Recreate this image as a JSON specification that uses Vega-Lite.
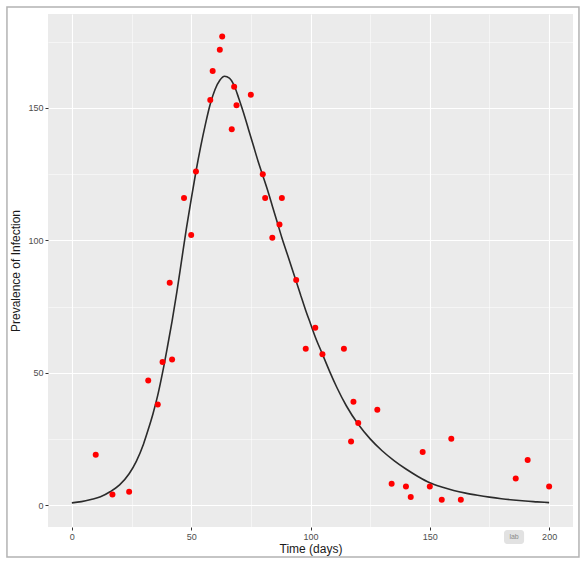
{
  "$schema": "https://vega.github.io/schema/vega-lite/v6.json",
  "width": 525,
  "height": 513,
  "autosize": {"type": "none"},
  "padding": {"left": 48, "top": 14, "right": 13, "bottom": 37},
  "background": "white",
  "datasets": {
    "observed": [
      {"day": 10, "prev": 19}, {"day": 17, "prev": 4}, {"day": 24, "prev": 5},
      {"day": 32, "prev": 47}, {"day": 36, "prev": 38}, {"day": 38, "prev": 54},
      {"day": 41, "prev": 84}, {"day": 42, "prev": 55}, {"day": 47, "prev": 116},
      {"day": 50, "prev": 102}, {"day": 52, "prev": 126}, {"day": 58, "prev": 153},
      {"day": 59, "prev": 164}, {"day": 62, "prev": 172}, {"day": 63, "prev": 177},
      {"day": 67, "prev": 142}, {"day": 68, "prev": 158}, {"day": 69, "prev": 151},
      {"day": 75, "prev": 155}, {"day": 80, "prev": 125}, {"day": 81, "prev": 116},
      {"day": 84, "prev": 101}, {"day": 87, "prev": 106}, {"day": 88, "prev": 116},
      {"day": 94, "prev": 85}, {"day": 98, "prev": 59}, {"day": 102, "prev": 67},
      {"day": 105, "prev": 57}, {"day": 114, "prev": 59}, {"day": 117, "prev": 24},
      {"day": 118, "prev": 39}, {"day": 120, "prev": 31}, {"day": 128, "prev": 36},
      {"day": 134, "prev": 8}, {"day": 140, "prev": 7}, {"day": 142, "prev": 3},
      {"day": 147, "prev": 20}, {"day": 150, "prev": 7}, {"day": 155, "prev": 2},
      {"day": 159, "prev": 25}, {"day": 163, "prev": 2}, {"day": 186, "prev": 10},
      {"day": 191, "prev": 17}, {"day": 200, "prev": 7}
    ],
    "model": [
      {"day": 0, "prev": 0.8}, {"day": 4, "prev": 1.3}, {"day": 8, "prev": 2.1},
      {"day": 12, "prev": 3.1}, {"day": 16, "prev": 5}, {"day": 20, "prev": 7.6},
      {"day": 24, "prev": 11.8}, {"day": 27, "prev": 16.5}, {"day": 30, "prev": 23},
      {"day": 32, "prev": 28.5}, {"day": 34, "prev": 34.5}, {"day": 36, "prev": 41.5},
      {"day": 38, "prev": 50}, {"day": 40, "prev": 59.5}, {"day": 42, "prev": 69.5},
      {"day": 44, "prev": 80.5}, {"day": 46, "prev": 92.5}, {"day": 48, "prev": 104.5},
      {"day": 50, "prev": 115.5}, {"day": 52, "prev": 126}, {"day": 54, "prev": 135.5},
      {"day": 56, "prev": 144}, {"day": 58, "prev": 151.5}, {"day": 60, "prev": 157},
      {"day": 62, "prev": 160.5}, {"day": 64, "prev": 162}, {"day": 66, "prev": 161.3},
      {"day": 68, "prev": 158.5}, {"day": 70, "prev": 153.5}, {"day": 72, "prev": 148},
      {"day": 74, "prev": 142}, {"day": 76, "prev": 136}, {"day": 78, "prev": 130},
      {"day": 80, "prev": 124.5}, {"day": 82, "prev": 119}, {"day": 84, "prev": 113},
      {"day": 86, "prev": 107}, {"day": 88, "prev": 101}, {"day": 90, "prev": 95.5},
      {"day": 92, "prev": 90}, {"day": 94, "prev": 84.5}, {"day": 96, "prev": 79},
      {"day": 98, "prev": 73.5}, {"day": 100, "prev": 68.5}, {"day": 102, "prev": 63.5},
      {"day": 105, "prev": 57}, {"day": 108, "prev": 50.5}, {"day": 111, "prev": 44.5},
      {"day": 115, "prev": 37.5}, {"day": 120, "prev": 30.5}, {"day": 125, "prev": 25},
      {"day": 130, "prev": 20.5}, {"day": 135, "prev": 16.8}, {"day": 140, "prev": 13.6},
      {"day": 145, "prev": 10.8}, {"day": 150, "prev": 8.4}, {"day": 155, "prev": 6.8},
      {"day": 160, "prev": 5.5}, {"day": 165, "prev": 4.5}, {"day": 170, "prev": 3.7},
      {"day": 175, "prev": 3}, {"day": 180, "prev": 2.4}, {"day": 185, "prev": 1.9},
      {"day": 190, "prev": 1.5}, {"day": 195, "prev": 1.2}, {"day": 200, "prev": 0.9}
    ]
  },
  "layer": [
    {
      "data": {"name": "model"},
      "mark": {"type": "line", "color": "#2b2b2b", "strokeWidth": 1.6, "interpolate": "monotone"},
      "encoding": {
        "x": {
          "field": "day", "type": "quantitative", "title": "Time (days)",
          "scale": {"domain": [-10, 210], "nice": false},
          "axis": {
            "values": [0, 25, 50, 75, 100, 125, 150, 175, 200],
            "labelExpr": "datum.value % 50 === 0 ? datum.label : ''",
            "gridWidth": {"condition": {"test": "datum.value % 50 !== 0", "value": 0.5}, "value": 1.1},
            "tickOpacity": {"condition": {"test": "datum.value % 50 !== 0", "value": 0}, "value": 1}
          }
        },
        "y": {
          "field": "prev", "type": "quantitative", "title": "Prevalence of Infection",
          "scale": {"domain": [-8.3, 185.5], "nice": false},
          "axis": {
            "values": [0, 25, 50, 75, 100, 125, 150, 175],
            "labelExpr": "datum.value % 50 === 0 ? datum.label : ''",
            "gridWidth": {"condition": {"test": "datum.value % 50 !== 0", "value": 0.5}, "value": 1.1},
            "tickOpacity": {"condition": {"test": "datum.value % 50 !== 0", "value": 0}, "value": 1}
          }
        }
      }
    },
    {
      "data": {"name": "observed"},
      "mark": {"type": "circle", "color": "#ff0000", "size": 36, "opacity": 1},
      "encoding": {
        "x": {"field": "day", "type": "quantitative", "title": "Time (days)", "scale": {"domain": [-10, 210], "nice": false}},
        "y": {"field": "prev", "type": "quantitative", "title": "Prevalence of Infection", "scale": {"domain": [-8.3, 185.5], "nice": false}}
      }
    },
    {
      "data": {"values": [{}]},
      "mark": {"type": "rect", "fill": "transparent", "stroke": "#b3b3b3", "strokeWidth": 1.5},
      "encoding": {
        "x": {"datum": -27.2, "type": "quantitative", "title": "Time (days)", "scale": {"domain": [-10, 210], "nice": false}},
        "x2": {"datum": 212.5},
        "y": {"datum": 188.1, "type": "quantitative", "title": "Prevalence of Infection", "scale": {"domain": [-8.3, 185.5], "nice": false}},
        "y2": {"datum": -19.6}
      }
    },
    {
      "data": {"values": [{"tag": "lab"}]},
      "mark": {"type": "rect", "fill": "#e2e2e2", "cornerRadius": 3},
      "encoding": {
        "x": {"datum": 181.1, "type": "quantitative", "title": "Time (days)", "scale": {"domain": [-10, 210], "nice": false}},
        "x2": {"datum": 189.5},
        "y": {"datum": -9.4, "type": "quantitative", "title": "Prevalence of Infection", "scale": {"domain": [-8.3, 185.5], "nice": false}},
        "y2": {"datum": -14.7}
      }
    },
    {
      "data": {"values": [{"tag": "lab"}]},
      "mark": {"type": "text", "fontSize": 7, "color": "#8a8a8a", "baseline": "middle", "align": "center"},
      "encoding": {
        "x": {"datum": 185.3, "type": "quantitative", "title": "Time (days)", "scale": {"domain": [-10, 210], "nice": false}},
        "y": {"datum": -12.1, "type": "quantitative", "title": "Prevalence of Infection", "scale": {"domain": [-8.3, 185.5], "nice": false}},
        "text": {"field": "tag"}
      }
    }
  ],
  "config": {
    "font": "Liberation Sans",
    "view": {"fill": "#ebebeb", "stroke": null},
    "axis": {
      "domain": false,
      "gridColor": "white",
      "tickColor": "#333333",
      "tickSize": 3,
      "labelColor": "#4d4d4d",
      "labelFontSize": 9,
      "labelPadding": 2,
      "labelOverlap": false,
      "labelFlush": false,
      "titleColor": "#1a1a1a",
      "titleFontSize": 12,
      "titleFontWeight": "normal"
    },
    "axisX": {"titlePadding": 2},
    "axisY": {"titlePadding": 5}
  }
}
